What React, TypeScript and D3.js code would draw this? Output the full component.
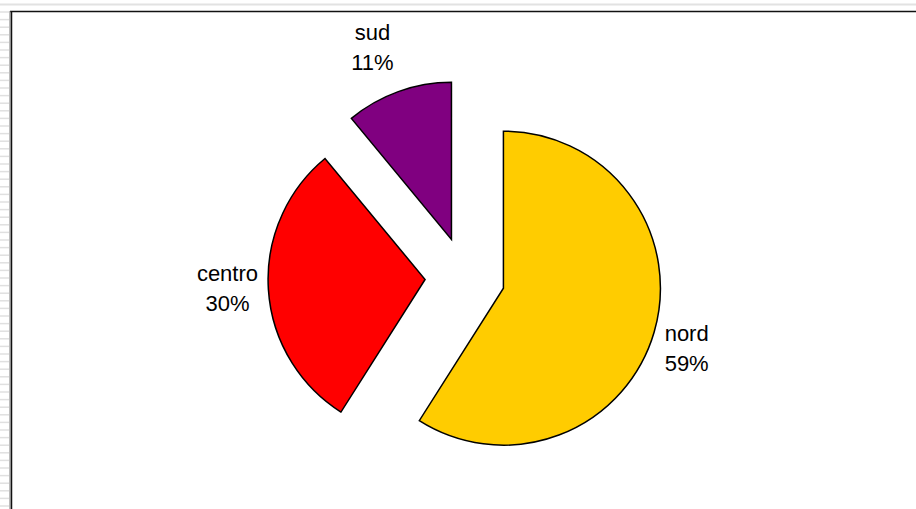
import React from "react";
import * as d3 from "d3";

const categories = ["nord", "centro", "sud"];
const values = [59, 30, 11];
const colors = ["#FFCC00", "#FF0000", "#800080"];
const percentLabels = ["59%", "30%", "11%"];

// small label nudges (layout only)
const labelNudgeX = [-4, -3, -13];
const labelNudgeY = [5, -4, -9];

const W = 916;
const H = 509;

export default function App() {
  const cx = 465;
  const cy = 277;
  const r = 157;
  const explode = 40;
  const labelDist = r + 38;

  const data = categories.map((c, i) => ({ name: c, value: values[i], color: colors[i], pct: percentLabels[i] }));
  const pie = d3.pie<any>().sort(null).value((d: any) => d.value).startAngle(0).endAngle(2 * Math.PI);
  const arcs = pie(data);
  const arcGen = d3.arc<any>().innerRadius(0).outerRadius(r);

  const dashes = d3.range(12, H, 7.6);

  return (
    <svg width={W} height={H} style={{ position: "absolute", left: 0, top: 0, background: "#fff" }}>
      <rect x={0} y={0} width={W} height={H} fill="#fff" />
      <line x1={0} x2={W} y1={4.5} y2={4.5} stroke="#e2e2e2" strokeWidth={2} />
      {dashes.map((y, i) => (
        <line key={i} x1={0} x2={9} y1={y} y2={y} stroke="#e0e0e0" strokeWidth={1.5} />
      ))}
      <line x1={10} x2={W} y1={11.5} y2={11.5} stroke="#111" strokeWidth={1.5} />
      <line x1={10} x2={10} y1={11} y2={H} stroke="#777" strokeWidth={1} />
      <line x1={11.5} x2={11.5} y1={11} y2={H} stroke="#111" strokeWidth={1.5} />

      {arcs.map((a, i) => {
        const mid = (a.startAngle + a.endAngle) / 2;
        const dx = Math.sin(mid);
        const dy = -Math.cos(mid);
        const ax = cx + explode * dx;
        const ay = cy + explode * dy;
        const lx = ax + labelDist * dx + labelNudgeX[i];
        const ly = ay + labelDist * dy + labelNudgeY[i];
        return (
          <g key={i}>
            <path
              d={arcGen(a) as string}
              transform={`translate(${ax},${ay})`}
              fill={a.data.color}
              stroke="#000"
              strokeWidth={1.5}
              strokeLinejoin="miter"
            />
            <text
              x={lx}
              y={ly}
              textAnchor="middle"
              fontFamily="'Liberation Sans', Arial, sans-serif"
              fontSize={22}
              fill="#000"
            >
              <tspan x={lx} dy={-7}>{a.data.name}</tspan>
              <tspan x={lx} dy={30}>{a.data.pct}</tspan>
            </text>
          </g>
        );
      })}
    </svg>
  );
}
